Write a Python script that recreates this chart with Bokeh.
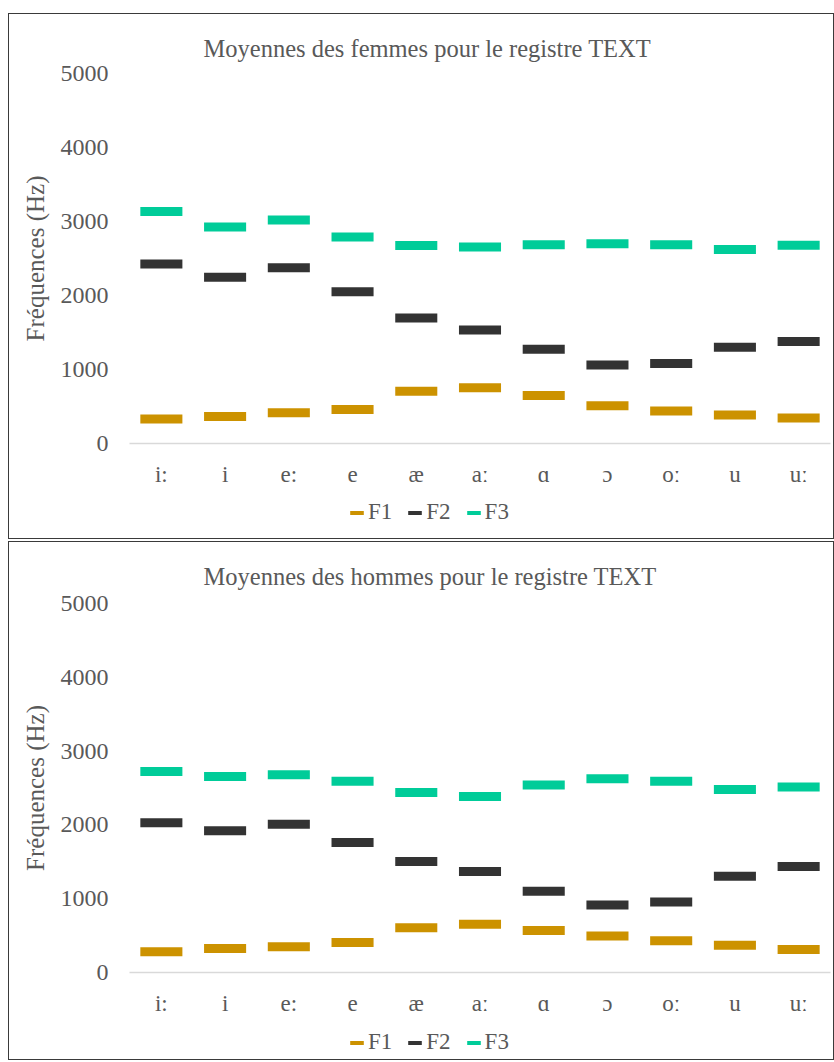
from bokeh.plotting import figure
from bokeh.models import FactorRange, Range1d, FixedTicker, Legend, LegendItem
from bokeh.layouts import column
from bokeh.embed import file_html
from bokeh.resources import INLINE

vowels = ["i:", "i", "e:", "e", "æ", "aː", "ɑ", "ɔ", "oː", "u", "uː"]

women_f1 = [330, 365, 415, 460, 705, 755, 650, 510, 440, 385, 345]
women_f2 = [2425, 2245, 2375, 2050, 1695, 1535, 1275, 1060, 1080, 1300, 1380]
women_f3 = [3135, 2925, 3020, 2790, 2675, 2655, 2685, 2700, 2685, 2620, 2680]

men_f1 = [280, 325, 350, 405, 605, 655, 570, 495, 430, 370, 310]
men_f2 = [2030, 1920, 2010, 1760, 1505, 1370, 1100, 915, 955, 1305, 1435]
men_f3 = [2725, 2655, 2680, 2590, 2440, 2385, 2540, 2625, 2590, 2480, 2515]

y_ticks = [0, 1000, 2000, 3000, 4000, 5000]
series_names = ["F1", "F2", "F3"]
colors = ["#CC9200", "#333333", "#00CC99"]

FONT = "Liberation Serif"
TXT = "#595959"


def make_panel(title, f1, f2, f3, main_h, leg_h, mb_top, mb_bottom, leg_y,
               margin_top, title_pad):
    p = figure(x_range=FactorRange(*vowels), y_range=Range1d(0, 5000),
               width=824, height=main_h, output_backend="svg",
               toolbar_location=None, min_border_left=120, min_border_right=3,
               min_border_top=mb_top, min_border_bottom=mb_bottom)
    p.outline_line_color = None
    p.grid.visible = False

    p.title.text = title
    p.title.text_font = FONT
    p.title.text_font_size = "24.5px"
    p.title.text_font_style = "normal"
    p.title.text_color = TXT
    p.title.align = "left"
    p.title.offset = 74
    p.title.standoff = 10
    p.title.padding = dict(left=0, right=0, top=0, bottom=title_pad)

    for vals, c in zip([f1, f2, f3], colors):
        p.rect(x=vowels, y=vals, width=0.66, height=9, height_units="screen",
               fill_color=c, line_color=None)

    xa = p.xaxis[0]
    xa.axis_line_color = "#d9d9d9"
    xa.axis_line_width = 1.5
    xa.major_tick_line_color = None
    xa.minor_tick_line_color = None
    xa.major_tick_out = 0
    xa.major_label_standoff = 18
    xa.major_label_text_font = FONT
    xa.major_label_text_font_size = "23px"
    xa.major_label_text_color = TXT

    ya = p.yaxis[0]
    ya.ticker = FixedTicker(ticks=y_ticks)
    ya.axis_line_color = None
    ya.major_tick_line_color = None
    ya.minor_tick_line_color = None
    ya.major_tick_out = 0
    ya.major_label_standoff = 21
    ya.major_label_text_font = FONT
    ya.major_label_text_font_size = "24px"
    ya.major_label_text_color = TXT
    ya.axis_label = "Fréquences (Hz)"
    ya.axis_label_text_font = FONT
    ya.axis_label_text_font_size = "25px"
    ya.axis_label_text_font_style = "normal"
    ya.axis_label_text_color = TXT
    ya.axis_label_standoff = 9

    # legend strip
    q = figure(x_range=Range1d(0, 1), y_range=Range1d(0, 1),
               width=824, height=leg_h, output_backend="svg",
               toolbar_location=None, min_border=0)
    q.axis.visible = False
    q.grid.visible = False
    q.outline_line_color = None
    items = []
    for name, c in zip(series_names, colors):
        r = q.rect(x=[5], y=[5], width=0.1, height=0.1, fill_color=c, line_color=None)
        items.append(LegendItem(label=name, renderers=[r]))
    leg = Legend(items=items, orientation="horizontal", location=(219, leg_y),
                 glyph_width=17, glyph_height=5, label_standoff=3, spacing=14,
                 padding=0, margin=0, border_line_color=None,
                 background_fill_alpha=0,
                 label_text_font=FONT, label_text_font_size="23px",
                 label_text_color=TXT)
    q.add_layout(leg, "center")

    box = column(p, q, spacing=0, margin=(margin_top, 0, 0, 8),
                 styles={"border": "1px solid #3a3a3a"})
    return box


b1 = make_panel("Moyennes des femmes pour le registre TEXT",
                women_f1, women_f2, women_f3, 480, 44, 59, 51, 13, 13, 7)
b2 = make_panel("Moyennes des hommes pour le registre TEXT",
                men_f1, men_f2, men_f3, 481, 36, 61, 51, 4, 2, 9)

layout = column(b1, b2, spacing=0)
open("out.html", "w").write(file_html(layout, INLINE))
